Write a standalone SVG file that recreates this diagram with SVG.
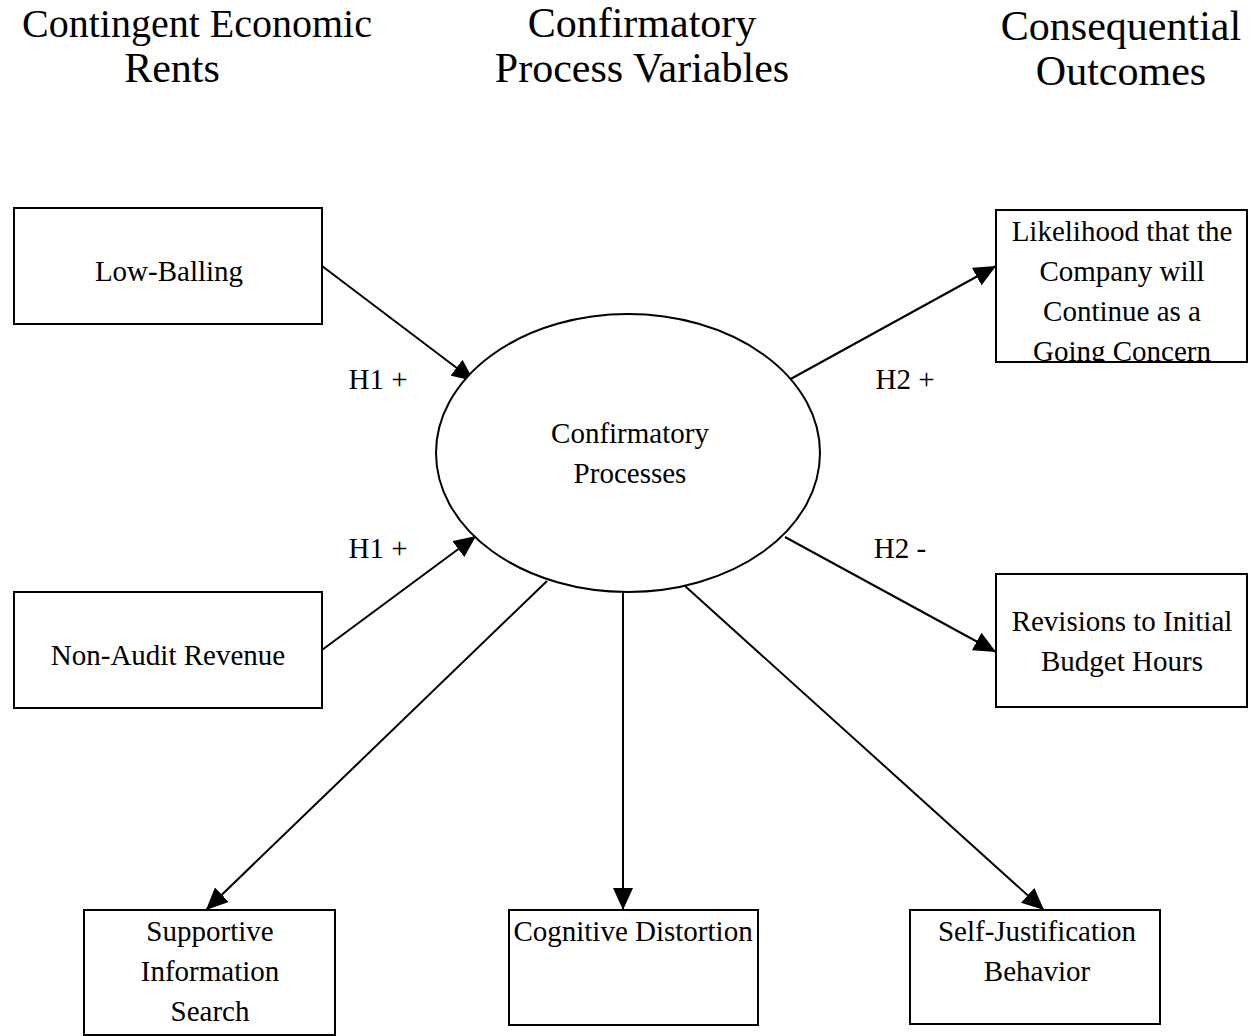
<svg xmlns="http://www.w3.org/2000/svg" width="1255" height="1036" viewBox="0 0 1255 1036">
<style>
.box{fill:#fff;stroke:#000;stroke-width:2}
.t{font-family:"Liberation Serif","Times New Roman",serif;font-size:29px;fill:#000;text-anchor:middle}
.h{font-family:"Liberation Serif","Times New Roman",serif;font-size:42px;fill:#000;text-anchor:middle}
.c{stroke:#000;stroke-width:2;fill:none;marker-end:url(#ah)}
</style>
<defs>
<marker id="ah" viewBox="0 0 22 20" refX="22" refY="10" markerWidth="22" markerHeight="20" markerUnits="userSpaceOnUse" orient="auto">
<path d="M0,0 L22,10 L0,20 Z" fill="#000"/>
</marker>
<clipPath id="clipL"><rect x="996" y="210" width="251" height="152"/></clipPath>
</defs>
<rect width="1255" height="1036" fill="#fff"/>
<g id="headers">
<text class="h" x="197" y="37" style="font-size:40px">Contingent Economic</text>
<text class="h" x="172" y="82">Rents</text>
<text class="h" x="642" y="37">Confirmatory</text>
<text class="h" x="642" y="82">Process Variables</text>
<text class="h" x="1121" y="40">Consequential</text>
<text class="h" x="1121" y="85">Outcomes</text>
</g>
<g id="connectors">
<line class="c" x1="322" y1="266" x2="474" y2="381"/>
<line class="c" x1="322" y1="650" x2="476" y2="536"/>
<line class="c" x1="787" y1="381" x2="996" y2="266"/>
<line class="c" x1="785" y1="537" x2="996" y2="652"/>
<line class="c" x1="547" y1="581" x2="206" y2="910"/>
<line class="c" x1="623" y1="592" x2="623" y2="910"/>
<line class="c" x1="685" y1="586" x2="1044" y2="910"/>
</g>
<g id="labels">
<text class="t" x="378" y="389">H1 +</text>
<text class="t" x="378" y="558">H1 +</text>
<text class="t" x="905" y="389">H2 +</text>
<text class="t" x="900" y="558">H2 -</text>
</g>
<g id="lowballing">
<rect class="box" x="14" y="208" width="308" height="116"/>
<text class="t" x="169" y="281">Low-Balling</text>
</g>
<g id="nonaudit">
<rect class="box" x="14" y="592" width="308" height="116"/>
<text class="t" x="168" y="665">Non-Audit Revenue</text>
</g>
<g id="confirmatory">
<ellipse cx="628" cy="453" rx="192" ry="139" fill="#fff" stroke="#000" stroke-width="2"/>
<text class="t" x="630" y="443">Confirmatory</text>
<text class="t" x="630" y="483">Processes</text>
</g>
<g id="likelihood">
<rect class="box" x="996" y="210" width="251" height="152"/>
<g clip-path="url(#clipL)">
<text class="t" x="1122" y="241">Likelihood that the</text>
<text class="t" x="1122" y="281">Company will</text>
<text class="t" x="1122" y="321">Continue as a</text>
<text class="t" x="1122" y="361">Going Concern</text>
</g>
<line x1="996" y1="362" x2="1247" y2="362" stroke="#000" stroke-width="2"/>
</g>
<g id="revisions">
<rect class="box" x="996" y="574" width="251" height="133"/>
<text class="t" x="1122" y="631">Revisions to Initial</text>
<text class="t" x="1122" y="671">Budget Hours</text>
</g>
<g id="supportive">
<rect class="box" x="84" y="910" width="251" height="125"/>
<text class="t" x="210" y="941">Supportive</text>
<text class="t" x="210" y="981">Information</text>
<text class="t" x="210" y="1021">Search</text>
</g>
<g id="cognitive">
<rect class="box" x="509" y="910" width="249" height="115"/>
<text class="t" x="633" y="941">Cognitive Distortion</text>
</g>
<g id="selfjust">
<rect class="box" x="910" y="910" width="250" height="114"/>
<text class="t" x="1037" y="941">Self-Justification</text>
<text class="t" x="1037" y="981">Behavior</text>
</g>
</svg>
